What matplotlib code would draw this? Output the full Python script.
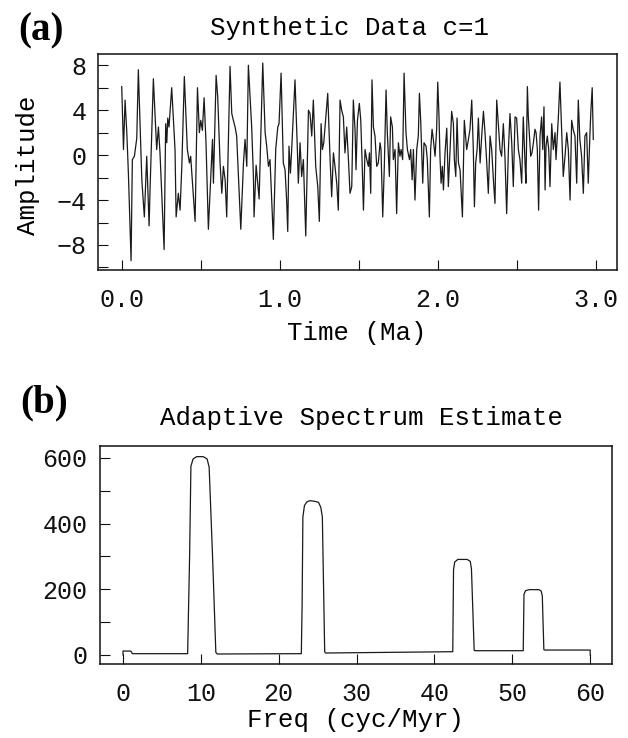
import matplotlib
matplotlib.use("Agg")
import matplotlib.pyplot as plt

# ---- panel (a): synthetic series, extrema ----
time_ma = [
    0.000, 0.011, 0.021, 0.032, 0.042, 0.059, 0.067, 0.080, 0.095, 0.105,
    0.127, 0.143, 0.158, 0.173, 0.179, 0.200, 0.221, 0.232, 0.242, 0.268,
    0.278, 0.285, 0.291, 0.299, 0.316, 0.337, 0.344, 0.358, 0.369, 0.380,
    0.396, 0.415, 0.428, 0.436, 0.464, 0.479, 0.491, 0.500, 0.510, 0.521,
    0.533, 0.548, 0.563, 0.574, 0.580, 0.597, 0.607, 0.622, 0.633, 0.643,
    0.654, 0.664, 0.685, 0.696, 0.706, 0.717, 0.727, 0.753, 0.770, 0.780,
    0.791, 0.801, 0.822, 0.833, 0.837, 0.850, 0.869, 0.892, 0.907, 0.917,
    0.928, 0.938, 0.959, 0.974, 0.987, 0.995, 1.008, 1.022, 1.033, 1.043,
    1.050, 1.058, 1.067, 1.075, 1.096, 1.111, 1.117, 1.128, 1.138, 1.149,
    1.164, 1.181, 1.191, 1.202, 1.212, 1.227, 1.240, 1.250, 1.261, 1.269,
    1.278, 1.286, 1.303, 1.318, 1.328, 1.339, 1.349, 1.360, 1.370, 1.381,
    1.391, 1.402, 1.412, 1.423, 1.434, 1.444, 1.455, 1.465, 1.476, 1.482,
    1.491, 1.503, 1.512, 1.520, 1.529, 1.539, 1.550, 1.560, 1.567, 1.575,
    1.583, 1.592, 1.602, 1.613, 1.623, 1.634, 1.640, 1.651, 1.661, 1.672,
    1.680, 1.693, 1.701, 1.712, 1.718, 1.729, 1.739, 1.750, 1.760, 1.767,
    1.777, 1.786, 1.798, 1.807, 1.820, 1.828, 1.837, 1.845, 1.855, 1.866,
    1.876, 1.883, 1.891, 1.904, 1.912, 1.925, 1.933, 1.946, 1.954, 1.963,
    1.971, 1.982, 1.992, 1.999, 2.007, 2.013, 2.020, 2.028, 2.035, 2.045,
    2.056, 2.066, 2.077, 2.087, 2.098, 2.104, 2.113, 2.121, 2.130, 2.140,
    2.155, 2.167, 2.182, 2.193, 2.203, 2.214, 2.224, 2.231, 2.239, 2.248,
    2.256, 2.267, 2.277, 2.288, 2.298, 2.309, 2.319, 2.330, 2.340, 2.351,
    2.361, 2.372, 2.382, 2.393, 2.403, 2.414, 2.424, 2.435, 2.446, 2.456,
    2.467, 2.477, 2.488, 2.498, 2.509, 2.519, 2.530, 2.540, 2.551, 2.557,
    2.566, 2.572, 2.579, 2.587, 2.595, 2.604, 2.614, 2.621, 2.629, 2.637,
    2.646, 2.656, 2.663, 2.671, 2.678, 2.684, 2.692, 2.701, 2.709, 2.720,
    2.730, 2.741, 2.747, 2.755, 2.762, 2.772, 2.783, 2.793, 2.804, 2.815,
    2.825, 2.836, 2.846, 2.857, 2.867, 2.878, 2.888, 2.898, 2.909, 2.920,
    2.930, 2.941, 2.951, 2.962, 2.968, 2.976, 2.983,
]
amplitude = [
    6.1, 0.5, 4.9, 2.0, -1.6, -9.4, -0.4, -0.1, 1.5, 7.6,
    -2.2, -5.5, -0.1, -6.3, -3.1, 6.8, 0.5, 2.5, 0.2, -8.4,
    2.8, 1.1, 3.3, 2.5, 6.0, 0.5, -5.5, -3.4, -4.9, -1.0,
    7.0, 0.5, -0.7, -0.1, -5.9, 6.0, 2.0, 3.1, 2.2, 5.1,
    1.1, -6.6, -1.9, 1.4, -2.5, 7.1, 5.2, -0.7, -3.4, -1.0,
    -2.2, -5.5, 7.9, 3.7, 3.1, 2.5, 1.7, -6.6, -0.7, 1.4,
    -1.0, 8.0, 2.5, -1.9, -5.5, -0.9, -3.9, 8.2, 2.0, 0.8,
    -1.0, -0.4, -7.5, 0.5, 2.5, 2.8, 7.3, -0.7, -1.3, -4.0,
    -6.8, 0.8, -1.6, 0.5, 6.7, 0.5, -2.5, 1.1, -1.9, -0.4,
    -7.2, 4.0, 3.7, 1.7, 4.9, -1.0, -2.8, -5.9, 2.8, 0.5,
    1.1, 2.5, 5.5, -0.4, -3.7, 0.2, -1.0, -2.5, -4.9, 4.9,
    4.0, 3.4, 0.2, 2.5, -0.4, -3.4, -2.8, 4.9, 2.2, -1.3,
    3.1, 4.6, 3.1, -0.4, -4.9, 0.5, -0.4, -1.0, 0.2, -3.4,
    6.7, 2.5, 1.7, -1.0, -0.7, 1.1, 0.5, -5.5, -1.0, 5.8,
    2.0, -1.9, 3.4, 2.5, -0.4, 0.5, -5.2, 1.1, -0.1, 0.5,
    -0.4, 7.3, 2.0, 0.5, -0.4, 0.5, -2.2, 0.5, -4.0, 0.5,
    1.7, 5.5, 3.1, -2.5, 1.1, 0.8, -0.4, -5.5, 0.5, 2.3,
    1.4, -0.1, 2.3, 6.5, 3.4, -0.1, -2.5, -1.0, -3.1, 0.2,
    2.4, -2.8, 0.5, 3.9, 2.8, -0.4, -1.9, 3.3, -0.7, -1.3,
    -5.5, 3.1, 0.5, 1.4, 2.3, 4.9, 0.5, -4.6, -0.7, 0.5,
    3.3, -0.7, 1.7, 3.9, 2.0, -0.7, -3.4, 1.7, 0.5, -2.2,
    -4.3, 4.9, 2.8, 0.5, -0.1, 2.8, -0.1, -5.2, 0.5, 3.7,
    1.1, -2.8, 3.4, 3.3, 0.5, -0.4, -2.5, 3.4, -0.7, -2.5,
    6.1, 3.4, 1.7, -0.1, 0.2, 1.1, 2.3, 2.0, 0.5, -4.9,
    1.7, 3.4, 0.5, 4.3, -3.1, 0.8, 1.7, 0.5, -2.8, 2.8,
    0.5, 2.0, -0.4, 1.7, 3.4, 6.5, 2.0, -1.9, -0.1, 2.0,
    0.5, -4.0, 3.1, 2.2, 1.7, -2.5, 4.9, 1.4, -0.1, -3.4,
    1.7, 2.0, -2.5, 2.0, 4.0, 6.0, 1.4,
]
assert len(time_ma) == len(amplitude)

time_ticks = [0.0, 0.5, 1.0, 1.5, 2.0, 2.5, 3.0]
time_labels = ["0.0", "", "1.0", "", "2.0", "", "3.0"]
amp_ticks = [-10, -8, -6, -4, -2, 0, 2, 4, 6, 8]
amp_labels = ["", "\u22128", "", "\u22124", "", "0", "", "4", "", "8"]

# ---- panel (b): adaptive spectrum estimate ----
freq = [
    0.0, 0.0, 1.0, 1.2, 8.30, 8.55, 8.72, 9.0, 9.45, 10.3, 10.8, 11.06, 11.5, 11.92, 12.1,
    22.9, 23.0, 23.1, 23.3, 23.6, 24.0, 24.6, 25.1, 25.4, 25.6, 25.9, 26.0,
    42.35, 42.45, 42.6, 43.0, 44.2, 44.6, 44.75, 45.1, 45.2,
    51.4, 51.5, 51.7, 52.2, 53.4, 53.7, 53.85, 54.05, 54.2, 60.0, 60.0,
]
power = [
    0, 12, 12, 4, 4, 300, 575, 597, 604, 604, 597, 572, 300, 8, 3,
    4, 150, 420, 455, 466, 470, 468, 465, 450, 420, 10, 6,
    10, 260, 283, 291, 291, 285, 262, 14, 13,
    13, 185, 196, 199, 199, 195, 180, 16, 15, 15, 0,
]
freq_ticks = [0, 10, 20, 30, 40, 50, 60]
freq_labels = ["0", "10", "20", "30", "40", "50", "60"]
power_ticks = [0, 100, 200, 300, 400, 500, 600]
power_labels = ["0", "", "200", "", "400", "", "600"]

MONO = ["Liberation Mono", "DejaVu Sans Mono"]
plt.rcParams["font.family"] = MONO
plt.rcParams["font.size"] = 18

LINE = "#1a1a1a"

fig = plt.figure(figsize=(6.28, 7.38), dpi=100)
ax1 = fig.add_axes([0.1556, 0.6341, 0.8264, 0.2927])
ax2 = fig.add_axes([0.1592, 0.1003, 0.8153, 0.2954])

for ax in (ax1, ax2):
    for sp in ax.spines.values():
        sp.set_linewidth(1.1)
        sp.set_color("#111111")
    ax.tick_params(direction="in", length=7, width=0.8, colors="#111111",
                   labelsize=18)

# panel (a)
ax1.plot(time_ma, amplitude, color=LINE, lw=0.9)
ax1.set_xlim(-0.152, 3.131)
ax1.set_ylim(-10.23, 9.0)
ax1.set_xticks(time_ticks)
ax1.set_xticklabels(time_labels)
ax1.set_yticks(amp_ticks)
ax1.set_yticklabels(amp_labels)
ax1.tick_params(axis="x", pad=13)
ax1.tick_params(axis="y", pad=8)
ax1.set_xlabel("Time (Ma)", fontsize=18.5)
ax1.xaxis.set_label_coords(0.5, -0.235)
ax1.xaxis.label.set_va("top")
ax1.set_ylabel("Amplitude", fontsize=18.5)
ax1.yaxis.set_label_coords(-0.112, 0.486)

# panel (b)
ax2.plot(freq, power, color=LINE, lw=0.9)
ax2.set_xlim(-2.96, 62.8)
ax2.set_ylim(-27.4, 636.5)
ax2.set_xticks(freq_ticks)
ax2.set_xticklabels(freq_labels)
ax2.set_yticks(power_ticks)
ax2.set_yticklabels(power_labels)
ax2.tick_params(axis="x", pad=13)
ax2.tick_params(axis="y", pad=9)
ax2.set_xlabel("Freq (cyc/Myr)", fontsize=18.5)
ax2.xaxis.set_label_coords(0.5, -0.2)
ax2.xaxis.label.set_va("top")

# titles and panel letters
fig.text(0.556, 0.962, "Synthetic Data c=1", ha="center", va="center",
         fontsize=18.5)
fig.text(0.575, 0.4336, "Adaptive Spectrum Estimate", ha="center",
         va="center", fontsize=18.5)
fig.text(0.066, 0.958, "(a)", ha="center", va="center", fontsize=28,
         fontweight="bold", family=["Liberation Serif", "DejaVu Serif"])
fig.text(0.070, 0.454, "(b)", ha="center", va="center", fontsize=28,
         fontweight="bold", family=["Liberation Serif", "DejaVu Serif"])

fig.savefig("out.png", dpi=100, facecolor="white")
